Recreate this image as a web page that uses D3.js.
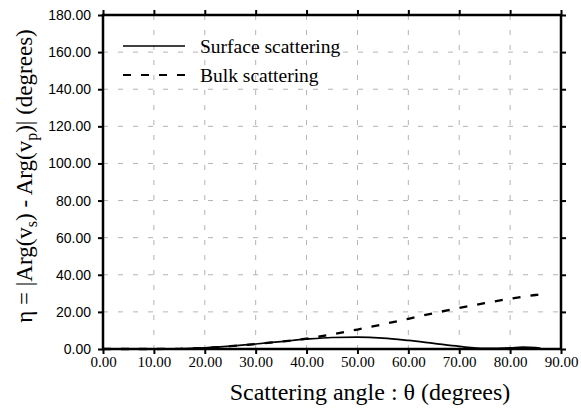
<!DOCTYPE html>
<html><head><meta charset="utf-8">
<script src="https://cdn.jsdelivr.net/npm/d3@7"></script>
<style>body{margin:0;background:#fff}svg{display:block}</style>
</head><body>
<script>
const theta   = [0,5,10,15,20,25,30,35,40,45,50,55,60,65,70,75,80,82.5,85,86];
const surface = [0,0,0,0.1,0.6,1.5,2.7,4.0,5.3,6.2,6.4,5.9,4.6,3.0,1.4,0.3,0.6,1.0,0.7,0.4];
const bulk    = [0,0,0,0.1,0.6,1.5,2.7,4.0,5.6,7.9,10.5,13.3,16.3,19.3,22.1,24.7,27.1,28.2,29.1,29.6];
const xTicks = [0,10,20,30,40,50,60,70,80,90];
const yTicks = [0,20,40,60,80,100,120,140,160,180];
const seriesNames = ["Surface scattering","Bulk scattering"];

const W=581,H=409;
const serif="'Liberation Serif', 'Times New Roman', serif";
const svg=d3.select("body").append("svg").attr("width",W).attr("height",H);
const x=d3.scaleLinear().domain([0,90]).range([103,561]);
const y=d3.scaleLinear().domain([0,180]).range([349,15]);

// grid
const grid=svg.append("g").attr("stroke","#b4b4b4").attr("stroke-width",1).attr("stroke-dasharray","5,10");
grid.selectAll("line.v").data(xTicks.slice(1,-1)).join("line")
  .attr("x1",d=>x(d)).attr("x2",d=>x(d)).attr("y1",y(180)).attr("y2",y(0));
grid.selectAll("line.h").data(yTicks.slice(1,-1)).join("line")
  .attr("y1",d=>y(d)).attr("y2",d=>y(d)).attr("x1",x(0)).attr("x2",x(90));

// axes
const tickLen=5;
function styleAxis(g){g.select(".domain").remove();g.selectAll(".tick line").attr("stroke","#000").attr("stroke-width",2);}
svg.append("g").attr("transform",`translate(0,${y(0)})`)
  .call(d3.axisBottom(x).tickValues(xTicks).tickSize(tickLen).tickFormat(d3.format(".2f")))
  .call(styleAxis)
  .call(g=>g.selectAll("text").style("font-family",serif).style("font-size","15px").attr("fill","#000").attr("dy","0.95em").attr("y",4));
svg.append("g").attr("transform",`translate(0,${y(180)})`)
  .call(d3.axisTop(x).tickValues(xTicks).tickSize(tickLen).tickFormat(""))
  .call(styleAxis);
svg.append("g").attr("transform",`translate(${x(0)},0)`)
  .call(d3.axisLeft(y).tickValues(yTicks).tickSize(tickLen).tickFormat(d3.format(".2f")))
  .call(styleAxis)
  .call(g=>g.selectAll("text").style("font-family","'Liberation Sans', Arial, sans-serif").style("font-size","14px").attr("fill","#000").attr("x",-12));
svg.append("g").attr("transform",`translate(${x(90)},0)`)
  .call(d3.axisRight(y).tickValues(yTicks).tickSize(tickLen).tickFormat(""))
  .call(styleAxis);
svg.append("rect").attr("x",x(0)).attr("y",y(180)).attr("width",x(90)-x(0)).attr("height",y(0)-y(180))
  .attr("fill","none").attr("stroke","#000").attr("stroke-width",2.5);

// lines
const pts=(vals)=>theta.map((t,i)=>[t,vals[i]]);
const line=d3.line().x(d=>x(d[0])).y(d=>y(d[1])).curve(d3.curveMonotoneX);
svg.append("path").attr("d",line(pts(bulk))).attr("fill","none").attr("stroke","#000")
  .attr("stroke-width",2.3).attr("stroke-dasharray","8,10");
svg.append("path").attr("d",line(pts(surface))).attr("fill","none").attr("stroke","#000").attr("stroke-width",1.7);

// legend
const lg=svg.append("g");
lg.append("line").attr("x1",123).attr("x2",185).attr("y1",46).attr("y2",46).attr("stroke","#000").attr("stroke-width",1.7);
lg.append("line").attr("x1",123).attr("x2",185).attr("y1",75).attr("y2",75).attr("stroke","#000").attr("stroke-width",2.2).attr("stroke-dasharray","8,10");
lg.selectAll("text").data(seriesNames).join("text")
  .attr("x",200).attr("y",(d,i)=>53+i*29).text(d=>d)
  .style("font-family",serif).style("font-size","19.5px").attr("fill","#000");

// axis titles
svg.append("text").attr("x",370).attr("y",400).attr("text-anchor","middle")
  .style("font-family",serif).style("font-size","24px").attr("fill","#000")
  .text("Scattering angle : θ (degrees)");
const yl=svg.append("text").attr("transform","translate(32,176) rotate(-90)").attr("text-anchor","middle")
  .style("font-family",serif).style("font-size","23px").attr("fill","#000");
yl.append("tspan").text("η = |Arg(v");
yl.append("tspan").style("font-size","16px").attr("dy",5).text("s");
yl.append("tspan").attr("dy",-5).text(") - Arg(v");
yl.append("tspan").style("font-size","16px").attr("dy",5).text("p");
yl.append("tspan").attr("dy",-5).text(")| (degrees)");
</script>
</body></html>
